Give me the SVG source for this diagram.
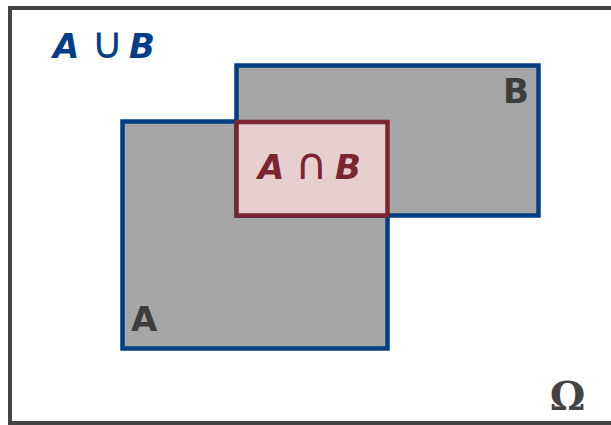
<svg xmlns="http://www.w3.org/2000/svg" width="611" height="425" viewBox="0 0 611 425">
  <style>
    .set { fill: #a6a6a6; stroke: #003f87; stroke-width: 4.5; }
    .inter { fill: #e7cfd0; stroke: #7a2530; stroke-width: 4.5; }
    .lbl { font-family: "DejaVu Sans", "Liberation Sans", sans-serif; font-weight: bold; font-size: 34px; fill: #3d3d3d; }
    .expr { font-family: "DejaVu Sans", "Liberation Sans", sans-serif; font-weight: bold; font-style: italic; font-size: 34px; }
    .op { font-weight: normal; font-style: normal; font-size: 44px; }
  </style>

  <!-- sample space frame -->
  <g id="omega">
    <rect x="10" y="8" width="612" height="415" fill="#ffffff" stroke="#444444" stroke-width="4"/>
    <text x="567.5" y="410" text-anchor="middle" font-family="DejaVu Serif, serif" font-weight="bold" font-size="40" fill="#444444">Ω</text>
  </g>

  <!-- set A -->
  <g id="setA">
    <rect class="set" x="122.5" y="121.5" width="265" height="227"/>
    <text class="lbl" x="131" y="331">A</text>
  </g>

  <!-- set B -->
  <g id="setB">
    <rect class="set" x="236.5" y="65.5" width="302" height="150"/>
    <text class="lbl" x="503" y="103">B</text>
  </g>

  <!-- intersection A ∩ B -->
  <g id="intersection">
    <rect class="inter" x="236.5" y="122" width="151" height="93.5"/>
    <text class="expr" y="179" fill="#7a2530"><tspan x="258">A</tspan><tspan class="op" x="295">∩</tspan><tspan x="335">B</tspan></text>
  </g>

  <!-- union label -->
  <g id="union">
    <text class="expr" y="58" fill="#003f87"><tspan x="53">A</tspan><tspan class="op" x="91">∪</tspan><tspan x="129">B</tspan></text>
  </g>
</svg>
